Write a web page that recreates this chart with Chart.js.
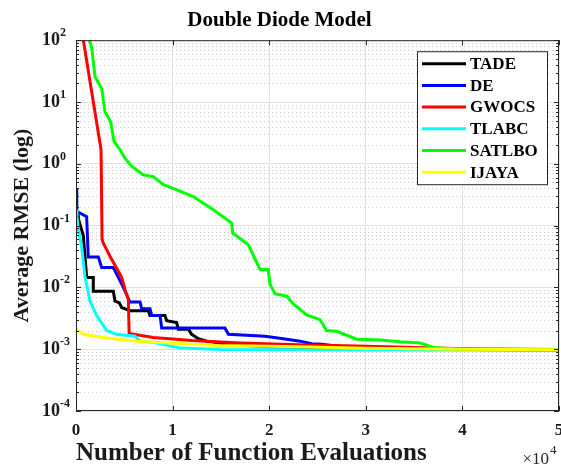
<!DOCTYPE html>
<html><head><meta charset="utf-8">
<script src="https://cdn.jsdelivr.net/npm/chart.js@4.4.1/dist/chart.umd.min.js"></script>
<style>html,body{margin:0;padding:0;background:#fff;}#wrap{width:561px;height:466px;}</style>
</head><body><div id="wrap"><canvas id="c" width="561" height="466"></canvas></div>
<script>
// ---------- data ----------
const seriesNames = ['TADE', 'DE', 'GWOCS', 'TLABC', 'SATLBO', 'IJAYA'];
const seriesColors = ['#000000', '#0000ff', '#ff0000', '#00ffff', '#00ff00', '#ffff00'];
const xTickValues = [0, 10000, 20000, 30000, 40000, 50000];
const yDecades = [1e-4, 1e-3, 1e-2, 1e-1, 1, 10, 100];

const tadeX = [0, 200, 300, 410, 760, 930, 1100, 1790, 1790, 3860, 4040, 4490, 4730, 5590, 7490, 7660, 9210, 9390, 10420, 10590, 11630, 11980, 12660, 13530, 16000, 20000, 30000, 40000, 50000];
const tadeY = [0.18, 0.16, 0.12, 0.105, 0.068, 0.032, 0.0145, 0.0145, 0.0087, 0.0087, 0.006, 0.0056, 0.0047, 0.0042, 0.0042, 0.0035, 0.0035, 0.0029, 0.0027, 0.0021, 0.0021, 0.00174, 0.00148, 0.00135, 0.00118, 0.0011, 0.00102, 0.00099, 0.00098];

const deX = [0, 80, 410, 1100, 1270, 2310, 2660, 3860, 4380, 4900, 5590, 6630, 6800, 7660, 7840, 8700, 8870, 15420, 15770, 19570, 21460, 23190, 24400, 25440, 28000, 35000, 50000];
const deY = [0.40, 0.17, 0.16, 0.14, 0.031, 0.031, 0.021, 0.021, 0.0145, 0.010, 0.0058, 0.0058, 0.0045, 0.0045, 0.0035, 0.0035, 0.0022, 0.0022, 0.00174, 0.00162, 0.00148, 0.00135, 0.00123, 0.0012, 0.00108, 0.001, 0.00098];

const gwocsX = [0, 760, 2590, 2700, 2830, 3520, 4730, 5070, 5420, 5500, 8000, 12000, 17000, 23000, 30000, 40000, 50000];
const gwocsY = [540, 100, 1.7, 0.06, 0.052, 0.032, 0.0145, 0.0093, 0.0063, 0.0018, 0.00155, 0.00138, 0.00126, 0.00118, 0.00112, 0.00102, 0.00099];

const tlabcX = [0, 100, 240, 590, 930, 1450, 2140, 3180, 4210, 6110, 6630, 8000, 10770, 15000, 30000, 50000];
const tlabcY = [0.18, 0.14, 0.087, 0.044, 0.015, 0.006, 0.0035, 0.002, 0.00174, 0.00162, 0.00135, 0.00129, 0.00105, 0.00099, 0.00097, 0.00097];

const satlboX = [0, 1620, 1970, 2660, 3000, 3590, 3930, 4550, 5070, 5770, 6970, 8000, 9040, 10250, 12140, 14210, 16120, 16220, 17840, 19050, 19910, 20080, 20600, 21810, 22500, 23880, 25260, 25950, 26990, 29060, 31470, 33540, 35610, 36990, 40000, 50000];
const satlboY = [400, 77.6, 25.7, 16.6, 6.9, 4.8, 2.3, 1.7, 1.23, 0.91, 0.66, 0.62, 0.46, 0.39, 0.295, 0.18, 0.11, 0.076, 0.049, 0.0195, 0.0195, 0.0112, 0.0079, 0.0072, 0.0054, 0.0036, 0.0030, 0.0020, 0.00195, 0.00145, 0.00141, 0.00132, 0.00126, 0.00107, 0.00099, 0.00098];

const ijayaX = [0, 760, 2830, 6280, 9730, 14560, 23190, 30000, 40000, 50000];
const ijayaY = [0.0021, 0.00174, 0.00155, 0.00135, 0.00126, 0.00115, 0.0011, 0.00104, 0.001, 0.00098];

// ---------- build ----------
const FONT = "'Liberation Serif', 'Times New Roman', serif";
const allX = [tadeX, deX, gwocsX, tlabcX, satlboX, ijayaX];
const allY = [tadeY, deY, gwocsY, tlabcY, satlboY, ijayaY];
const datasets = seriesNames.map((name, i) => ({
  label: name,
  data: allX[i].map((x, j) => ({x: x, y: allY[i][j]})),
  borderColor: seriesColors[i],
  backgroundColor: seriesColors[i],
  borderWidth: 3,
  pointRadius: 0,
  pointHoverRadius: 0,
  showLine: true,
  fill: false,
  tension: 0,
  order: seriesNames.length - i
}));

function isDecade(v) { const l = Math.log10(v); return Math.abs(l - Math.round(l)) < 1e-9; }

const decor = {
  id: 'decor',
  beforeDatasetsDraw(chart) {
    const {ctx, chartArea: a, scales: {y}} = chart;
    ctx.save();
    ctx.strokeStyle = '#cdcdcd';
    ctx.lineWidth = 1;
    ctx.setLineDash([1, 3]);
    for (let d = 0; d < yDecades.length - 1; d++) {
      for (let k = 2; k <= 9; k++) {
        const py = Math.round(y.getPixelForValue(yDecades[d] * k)) + 0.5;
        ctx.beginPath(); ctx.moveTo(a.left, py); ctx.lineTo(a.right, py); ctx.stroke();
      }
    }
    ctx.restore();
  },
  afterDraw(chart) {
    const {ctx, chartArea: a, scales: {x, y}} = chart;
    ctx.save();
    ctx.strokeStyle = '#262626';
    ctx.lineWidth = 1;
    ctx.strokeRect(a.left + 0.5, a.top + 0.5, a.right - a.left - 1, a.bottom - a.top - 1);
    ctx.beginPath();
    xTickValues.forEach(v => {
      const px = Math.round(x.getPixelForValue(v)) + 0.5;
      ctx.moveTo(px, a.bottom); ctx.lineTo(px, a.bottom - 5);
      ctx.moveTo(px, a.top); ctx.lineTo(px, a.top + 5);
    });
    for (let d = 0; d < yDecades.length; d++) {
      for (let k = 1; k <= 9; k++) {
        if (d === yDecades.length - 1 && k > 1) break;
        const py = Math.round(y.getPixelForValue(yDecades[d] * k)) + 0.5;
        const len = k === 1 ? 5 : 3;
        ctx.moveTo(a.left, py); ctx.lineTo(a.left + len, py);
        ctx.moveTo(a.right, py); ctx.lineTo(a.right - len, py);
      }
    }
    ctx.stroke();

    // y tick exponents (superscripts next to the library's "10" labels)
    ctx.fillStyle = '#1a1a1a';
    ctx.font = 'bold 12px ' + FONT;
    ctx.textAlign = 'left';
    ctx.textBaseline = 'middle';
    yDecades.forEach(v => {
      const py = y.getPixelForValue(v);
      ctx.fillText(String(Math.round(Math.log10(v))), a.left - 16, py - 7);
    });

    // legend
    const bw = 130, bh = 133;
    const bx = a.right - 12 - bw, by = a.top + 11;
    ctx.fillStyle = '#ffffff';
    ctx.fillRect(bx, by, bw, bh);
    ctx.strokeStyle = '#262626';
    ctx.lineWidth = 1;
    ctx.strokeRect(bx + 0.5, by + 0.5, bw, bh);
    ctx.font = 'bold 17px ' + FONT;
    ctx.textBaseline = 'middle';
    ctx.textAlign = 'left';
    chart.data.datasets.forEach((ds, i) => {
      const ry = by + 12.5 + i * 21.7;
      ctx.strokeStyle = ds.borderColor;
      ctx.lineWidth = 3;
      ctx.beginPath(); ctx.moveTo(bx + 5, ry); ctx.lineTo(bx + 49, ry); ctx.stroke();
      ctx.fillStyle = '#000';
      ctx.fillText(ds.label, bx + 53, ry + 1);
    });

    // x exponent
    ctx.fillStyle = '#262626';
    ctx.textBaseline = 'alphabetic';
    ctx.textAlign = 'right';
    ctx.font = '17px ' + FONT;
    ctx.fillText('\u00D710', a.right - 10, 464);
    ctx.textAlign = 'left';
    ctx.font = '13px ' + FONT;
    ctx.fillText('4', a.right - 9, 454);
    ctx.restore();
  }
};

new Chart(document.getElementById('c'), {
  type: 'scatter',
  data: {datasets},
  options: {
    responsive: false,
    devicePixelRatio: 1,
    animation: false,
    layout: {padding: {left: 0, right: 2, top: 0, bottom: 0}},
    plugins: {
      legend: {display: false},
      tooltip: {enabled: false},
      title: {
        display: true, text: 'Double Diode Model', color: '#000',
        font: {family: FONT, size: 21, weight: 'bold'},
        padding: {top: 8, bottom: 7}
      }
    },
    scales: {
      x: {
        type: 'linear', min: 0, max: 50000,
        afterBuildTicks: s => { s.ticks = xTickValues.map(v => ({value: v})); },
        ticks: {
          callback: v => String(v / 10000), autoSkip: false, maxRotation: 0,
          font: {family: FONT, size: 17, weight: 'bold'}, color: '#1a1a1a', padding: 9
        },
        grid: {color: '#e2e2e2', drawTicks: false},
        border: {display: false},
        title: {
          display: true, text: 'Number of Function Evaluations', align: 'start', color: '#1a1a1a',
          font: {family: FONT, size: 25, weight: 'bold', lineHeight: 1},
          padding: {top: 0, bottom: 0}
        },
        afterFit: s => { s.height = 55; s.paddingLeft = 0; s.paddingRight = 0; }
      },
      y: {
        type: 'logarithmic', min: 1e-4, max: 100,
        afterBuildTicks: s => {
          const t = [];
          for (let d = 0; d < yDecades.length; d++) {
            for (let k = 1; k <= 9; k++) {
              if (d === yDecades.length - 1 && k > 1) break;
              t.push({value: yDecades[d] * k, major: k === 1});
            }
          }
          s.ticks = t;
        },
        ticks: {
          callback: v => isDecade(v) ? '10' : '',
          autoSkip: false,
          font: {family: FONT, size: 18, weight: 'bold'}, color: '#1a1a1a', padding: 16
        },
        grid: {color: c => (c.tick && isDecade(c.tick.value)) ? '#e2e2e2' : 'rgba(0,0,0,0)', drawTicks: false},
        border: {display: false},
        title: {
          display: true, text: 'Average RMSE (log)', color: '#1a1a1a',
          font: {family: FONT, size: 22, weight: 'bold', lineHeight: 1.2},
          padding: {top: 9, bottom: 0}
        },
        afterFit: s => { s.width = 76; s.paddingTop = 0; s.paddingBottom = 0; }
      }
    }
  },
  plugins: [decor]
});
</script></body></html>
